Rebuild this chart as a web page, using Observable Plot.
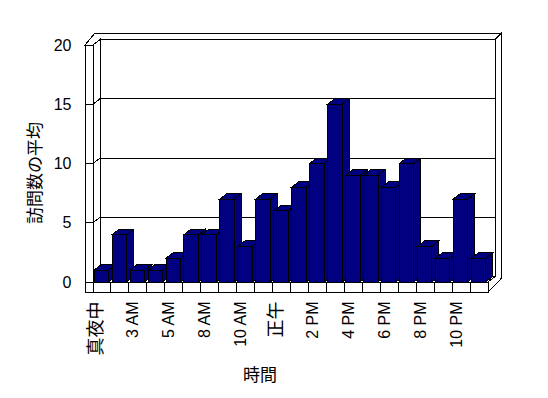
<!DOCTYPE html>
<html>
<head>
<meta charset="utf-8">
<script src="https://cdn.jsdelivr.net/npm/d3@7"></script>
<script src="https://cdn.jsdelivr.net/npm/@observablehq/plot@0.6"></script>
<style>
  html, body { margin: 0; padding: 0; background: #fff; }
  #chart svg { display: block; }
</style>
</head>
<body>
<div id="chart"></div>
<script>
// ---- data ----
const hours = ["真夜中","1 AM","3 AM","4 AM","5 AM","7 AM","8 AM","9 AM","10 AM","11 AM","正午","1 PM","2 PM","3 PM","4 PM","5 PM","6 PM","7 PM","8 PM","9 PM","10 PM","11 PM"];
const visits = [1,4,1,1,2,4,4,7,3,7,6,8,10,15,9,9,8,10,3,2,7,2];
const yTicks = [0,5,10,15,20];
const shownLabels = hours.filter((d, i) => i % 2 === 0);
const yTitle = "訪問数の平均";
const xTitle = "時間";

const data = hours.map((h, i) => ({hour: h, value: visits[i]}));

// ---- style constants ----
const NAVY = "#000080";
const DX = 7, DY = 5.5;       // depth offset
const WALL = 8, FLOOR = 10;   // wall / floor thickness
const BAR_INSET = 1.2, BAR_W = 14.5;
const FONT = "'Liberation Sans', Arial, 'Noto Sans CJK JP', sans-serif";
const CJK = "'Noto Sans CJK JP', 'Liberation Sans', sans-serif";

const P = pts => "M" + pts.map(p => p[0] + "," + p[1]).join("L") + "Z";

function frameMark(index, scales, values, dim) {
  const {x, y} = scales;
  const xL = dim.marginLeft, xR = dim.width - dim.marginRight;
  const y0 = y(0), yT = y(d3.max(yTicks));
  const g = d3.create("svg:g")
    .attr("stroke", "black").attr("fill", "white")
    .attr("stroke-width", 1).attr("shape-rendering", "crispEdges");
  // back wall face
  g.append("rect").attr("x", xL + DX).attr("y", yT - DY)
    .attr("width", xR - xL).attr("height", y0 - yT);
  // top strip of walls
  g.append("path").attr("d", P([[xL - WALL, yT], [xL, yT], [xL + DX, yT - DY], [xR + DX, yT - DY], [xR + DX + 6.7, yT - 12], [xL + 2, yT - 12]]));
  // right end face
  g.append("path").attr("d", P([[xR + DX, yT - DY], [xR + DX + 6.7, yT - 12], [xR + DX + 6.7, y0 - 4], [xR, y0 + FLOOR], [xR, y0], [xR + DX, y0 - DY]]));
  // left wall inner face
  g.append("path").attr("d", P([[xL, yT], [xL + DX, yT - DY], [xL + DX, y0 - DY], [xL, y0]]));
  // floor top
  g.append("path").attr("d", P([[xL, y0], [xR, y0], [xR + DX, y0 - DY], [xL + DX, y0 - DY]]));
  // left wall front
  g.append("rect").attr("x", xL - WALL).attr("y", yT)
    .attr("width", WALL).attr("height", y0 + FLOOR - yT);
  // floor front
  g.append("rect").attr("x", xL).attr("y", y0)
    .attr("width", xR - xL).attr("height", FLOOR);
  for (const h of hours.slice(1)) {
    g.append("line").attr("x1", x(h)).attr("x2", x(h)).attr("y1", y0).attr("y2", y0 + FLOOR);
  }
  // gridlines and wall ticks
  for (const v of yTicks) {
    const yy = y(v);
    g.append("line").attr("x1", xL - WALL).attr("x2", xL).attr("y1", yy).attr("y2", yy);
    if (v > 0 && v < d3.max(yTicks)) {
      g.append("line").attr("x1", xL).attr("y1", yy).attr("x2", xL + DX).attr("y2", yy - DY);
      g.append("line").attr("x1", xL + DX).attr("x2", xR + DX).attr("y1", yy - DY).attr("y2", yy - DY);
    }
  }
  return g.node();
}

function barDepthMark(index, scales, values, dim) {
  const {x, y} = scales;
  const y0 = y(0);
  const g = d3.create("svg:g")
    .attr("stroke", "black").attr("fill", NAVY)
    .attr("stroke-width", 1).attr("shape-rendering", "crispEdges");
  for (const d of data) {
    const L = x(d.hour) + BAR_INSET, R = L + BAR_W, yv = y(d.value);
    g.append("path").attr("d", P([[R, yv], [R + DX, yv - DY], [R + DX, y0 - DY], [R, y0]]));
    g.append("path").attr("d", P([[L, yv], [R, yv], [R + DX, yv - DY], [L + DX, yv - DY]]));
  }
  return g.node();
}

function titlesMark(index, scales, values, dim) {
  const g = d3.create("svg:g").attr("fill", "black").attr("font-family", CJK);
  g.append("text").attr("transform", "translate(35,173) rotate(-90)")
    .attr("text-anchor", "middle").attr("dy", "0.35em").attr("font-size", 17).text(yTitle);
  g.append("text").attr("x", 260).attr("y", 375)
    .attr("text-anchor", "middle").attr("dy", "0.35em").attr("font-size", 17).text(xTitle);
  return g.node();
}

const chart = Plot.plot({
  width: 548,
  height: 398,
  marginLeft: 93,
  marginRight: 60,
  marginTop: 45,
  marginBottom: 116,
  style: {background: "#fff", color: "black", fontFamily: FONT, fontSize: "16px"},
  x: {type: "band", domain: hours, padding: 0, round: false, axis: null},
  y: {domain: [0, 20], axis: null},
  marks: [
    frameMark,
    barDepthMark,
    Plot.barY(data, {
      x: "hour", y: "value", fill: NAVY, stroke: "black", strokeWidth: 1,
      insetLeft: BAR_INSET, insetRight: 17.95 - BAR_INSET - BAR_W,
      shapeRendering: "crispEdges"
    }),
    Plot.axisY(yTicks, {
      anchor: "left", tickSize: 0, tickPadding: 22, fontSize: 16, label: null,
      fontFamily: FONT
    }),
    Plot.text(shownLabels, {
      x: d => d, frameAnchor: "bottom", dy: 19, rotate: -90, textAnchor: "end",
      fontSize: d => /[A-Za-z0-9]/.test(d) ? 16 : 18, fill: "black",
      fontFamily: d => /[A-Za-z0-9]/.test(d) ? FONT : CJK
    }),
    titlesMark
  ]
});

document.getElementById("chart").append(chart);
</script>
</body>
</html>
